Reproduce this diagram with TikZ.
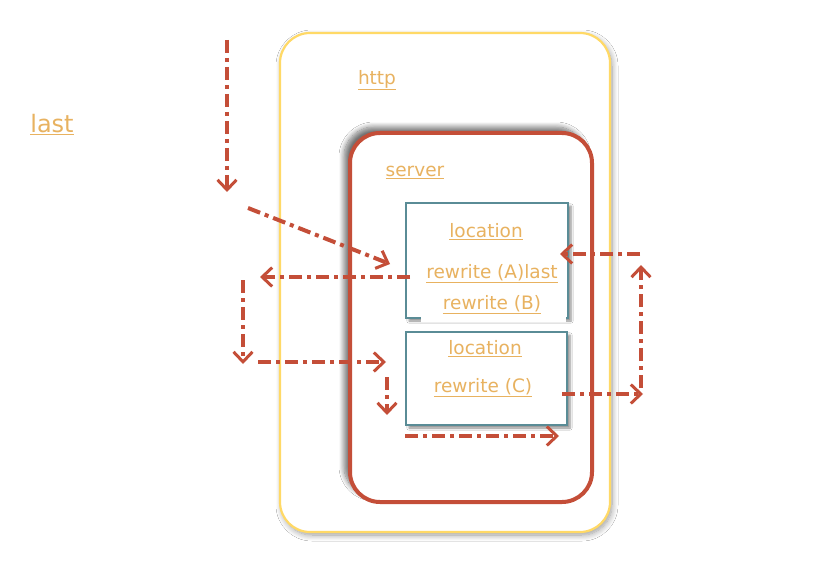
\documentclass[tikz,border=0pt]{standalone}
\usepackage{fontspec}
\setmainfont{DejaVu Sans}
\usetikzlibrary{arrows.meta,shadows,shadows.blur}
\definecolor{lbl}{RGB}{232,178,96}
\definecolor{rd}{RGB}{196,78,56}
\definecolor{yl}{RGB}{255,217,102}
\definecolor{tl}{RGB}{90,140,150}
\tikzset{
  lbltext/.style={text=lbl,font=\fontsize{18.5}{21}\selectfont,inner sep=0pt},
  flow/.style={draw=rd,line width=4pt,dash pattern=on 13pt off 5pt on 4pt off 5pt,
    -{Straight Barb[length=10pt,width=19pt,line width=3pt]}},
  locbox/.style={draw=tl,line width=1.4pt,fill=white,
    blur shadow={shadow xshift=3pt,shadow yshift=-3pt,shadow blur steps=6,shadow opacity=45}},
}
\newcommand{\ul}[1]{\underline{#1}}
\begin{document}
\begin{tikzpicture}[x=1pt,y=-1pt]
\useasboundingbox (0,0) rectangle (822,564);
\fill[white] (0,0) rectangle (822,564);
% http box
\node[draw=yl,line width=2.2pt,rounded corners=30pt,minimum width=330pt,minimum height=499pt,
  blur shadow={shadow xshift=2pt,shadow yshift=-3pt,shadow blur steps=10,shadow blur radius=6pt,shadow opacity=40},fill=white]
  (http) at (445,282.5) {};
\node[lbltext] (httpl) at (377,80) {\ul{http}};
\node[lbltext,font=\fontsize{24}{28}\selectfont] (lastl) at (52,125) {\ul{last}};
% server box
\node[draw=rd,line width=4pt,rounded corners=30pt,minimum width=242pt,minimum height=369pt,
  blur shadow={shadow xshift=-6pt,shadow yshift=6pt,shadow blur steps=10,shadow blur radius=5pt,shadow opacity=55},fill=white]
  (server) at (471,317.5) {};
\node[lbltext] (serverl) at (415,172) {\ul{server}};
% location boxes
\node[locbox,minimum width=162pt,minimum height=115pt] (loc1) at (487,260.5) {};
\fill[white] (421,297) rectangle (566,322);
\node[locbox,minimum width=161pt,minimum height=93pt] (loc2) at (486.5,378.5) {};
\node[lbltext] (l1) at (486,232) {\ul{location}};
\node[lbltext] (rA) at (492,274) {\ul{rewrite (A)last}};
\node[lbltext] (rB) at (492,305) {\ul{rewrite (B)}};
\node[lbltext] (l2) at (485,349) {\ul{location}};
\node[lbltext] (rC) at (483,388) {\ul{rewrite (C)}};
% flow coordinates
\coordinate (a1) at (227,40);   \coordinate (a2) at (227,192);
\coordinate (b1) at (248,208);  \coordinate (b2) at (390,264);
\coordinate (c1) at (410,277);  \coordinate (c2) at (260,277);
\coordinate (d1) at (243,280);  \coordinate (d2) at (243,364);
\coordinate (e1) at (258,362);  \coordinate (e2) at (386,362);
\coordinate (f1) at (387,377);  \coordinate (f2) at (387,415);
\coordinate (g1) at (405,436);  \coordinate (g2) at (559,436);
\coordinate (h1) at (562,394);  \coordinate (h2) at (643,394);
\coordinate (i1) at (641,388);  \coordinate (i2) at (641,265);
\coordinate (j1) at (640,254);  \coordinate (j2) at (560,254);
\draw[flow] (a1) -- (a2);
\draw[flow] (b1) -- (b2);
\draw[flow] (c1) -- (c2);
\draw[flow] (d1) -- (d2);
\draw[flow] (e1) -- (e2);
\draw[flow] (f1) -- (f2);
\draw[flow] (g1) -- (g2);
\draw[flow] (h1) -- (h2);
\draw[flow] (i1) -- (i2);
\draw[flow] (j1) -- (j2);
\end{tikzpicture}
\end{document}
